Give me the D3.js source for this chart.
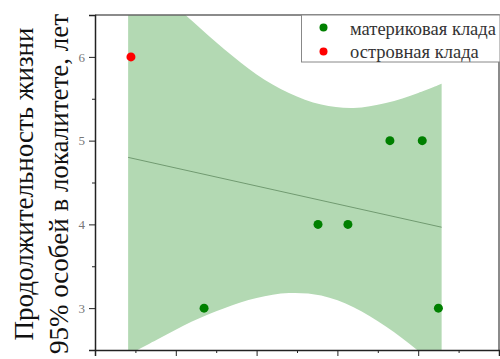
<!DOCTYPE html>
<html>
<head>
<meta charset="utf-8">
<script src="https://cdn.jsdelivr.net/npm/d3@7"></script>
<style>
  body { margin: 0; background: #fff; }
  text { font-family: "Liberation Serif", "Times New Roman", serif; }
</style>
</head>
<body>
<svg class="chart"></svg>
<script>
const width = 500;
const height = 359;
const margin = { top: 15, right: 1, bottom: 9, left: 95 };

// data
const mainlandX = [1.35, 2.76, 3.13, 3.65, 4.05, 4.25];
const mainlandY = [3, 4, 4, 5, 5, 3];
const islandX = [0.445];
const islandY = [6];

// fitted line and 95% band
const fitX = [0.41, 4.29];
const fitY = [4.8, 3.966];
const bandX = [0.41, 0.8, 1.2, 1.6, 2.0, 2.4, 2.8, 3.2, 3.6, 4.0, 4.29];
const bandUpper = [7.17, 6.79, 6.43, 6.09, 5.79, 5.57, 5.43, 5.39, 5.45, 5.57, 5.68];
const bandLower = [2.44, 2.64, 2.84, 3.0, 3.12, 3.18, 3.15, 3.01, 2.78, 2.49, 2.25];

const yTicks = [3, 4, 5, 6];
const yMinorTicks = [2.5, 3.5, 4.5, 5.5, 6.5];
const xTicks = [0, 1, 2, 3, 4, 5];
const xMinorTicks = [0.5, 1.5, 2.5, 3.5, 4.5];

const legendLabels = ["материковая клада", "островная клада"];
const legendColors = ["#008000", "#ff0000"];
const yTitle = ["Продолжительность жизни", "95% особей в локалитете, лет"];

const svg = d3.select(".chart").attr("width", width).attr("height", height);

const xScale = d3.scaleLinear().domain([0, 5]).range([margin.left, width - margin.right]);
const yScale = d3.scaleLinear().domain([2.5, 6.5]).range([height - margin.bottom, margin.top]);

svg.append("clipPath").attr("id", "plot-clip")
  .append("rect")
  .attr("x", margin.left)
  .attr("y", margin.top)
  .attr("width", width - margin.right - margin.left)
  .attr("height", height - margin.bottom - margin.top);

const plot = svg.append("g").attr("clip-path", "url(#plot-clip)");

// confidence band
const bandData = bandX.map((x, i) => ({ x: x, hi: bandUpper[i], lo: bandLower[i] }));
plot.append("path")
  .datum(bandData)
  .attr("fill", "#b3d9b3")
  .attr("d", d3.area()
    .x((d) => xScale(d.x))
    .y0((d) => yScale(d.lo))
    .y1((d) => yScale(d.hi))
    .curve(d3.curveCatmullRom));

// fit line
plot.append("line")
  .attr("x1", xScale(fitX[0]))
  .attr("y1", yScale(fitY[0]))
  .attr("x2", xScale(fitX[1]))
  .attr("y2", yScale(fitY[1]))
  .attr("stroke", "#5f8a5f")
  .attr("stroke-width", 0.8);

// points
plot.selectAll(".mainland")
  .data(mainlandX.map((x, i) => [x, mainlandY[i]]))
  .enter()
  .append("circle")
  .attr("cx", (d) => xScale(d[0]))
  .attr("cy", (d) => yScale(d[1]))
  .attr("r", 4.5)
  .attr("fill", legendColors[0]);

plot.selectAll(".island")
  .data(islandX.map((x, i) => [x, islandY[i]]))
  .enter()
  .append("circle")
  .attr("cx", (d) => xScale(d[0]))
  .attr("cy", (d) => yScale(d[1]))
  .attr("r", 4.5)
  .attr("fill", legendColors[1]);

// frame top / right
svg.append("path")
  .attr("d", `M${margin.left},${margin.top}H${width - margin.right}V${height - margin.bottom}`)
  .attr("fill", "none")
  .attr("stroke", "#666")
  .attr("stroke-width", 1.5);

// axes (x labels fall below the visible area in the original, so none drawn)
svg.append("g")
  .attr("transform", `translate(${margin.left},0)`)
  .call(d3.axisLeft(yScale).tickValues(yTicks).tickSize(6).tickPadding(4).tickFormat(d3.format("d")));
svg.append("g")
  .attr("transform", `translate(${margin.left},0)`)
  .call(d3.axisLeft(yScale).tickValues(yMinorTicks).tickSize(3).tickFormat(""))
  .call((g) => g.select(".domain").remove());

svg.append("g")
  .attr("transform", `translate(0,${height - margin.bottom})`)
  .call(d3.axisBottom(xScale).tickValues(xTicks).tickSize(6).tickFormat(""));
svg.append("g")
  .attr("transform", `translate(0,${height - margin.bottom})`)
  .call(d3.axisBottom(xScale).tickValues(xMinorTicks).tickSize(3).tickFormat(""))
  .call((g) => g.select(".domain").remove());

svg.selectAll(".domain").attr("stroke", "#222").attr("stroke-width", 1.5);
svg.selectAll(".tick line").attr("stroke", "#222");
svg.selectAll(".tick text")
  .attr("fill", "#777")
  .style("font-size", "13px")
  .style("font-family", "'Liberation Serif', serif");

// legend
const legend = svg.append("g");
legend.append("rect")
  .attr("x", 301.5)
  .attr("y", margin.top)
  .attr("width", width - 301.5)
  .attr("height", 47)
  .attr("fill", "#fff")
  .attr("stroke", "#888")
  .attr("stroke-width", 1);

legendLabels.forEach((label, i) => {
  legend.append("circle")
    .attr("cx", 323.5)
    .attr("cy", 27.5 + i * 24)
    .attr("r", 4)
    .attr("fill", legendColors[i]);
  legend.append("text")
    .attr("x", 350)
    .attr("y", 34.5 + i * 23)
    .style("font-size", "18.5px")
    .style("font-family", "'Liberation Serif', serif")
    .attr("fill", "#333")
    .text(label);
});

// y title
yTitle.forEach((line, i) => {
  svg.append("text")
    .attr("transform", "rotate(-90)")
    .attr("x", -184)
    .attr("y", 33 + i * 35)
    .attr("text-anchor", "middle")
    .style("font-size", "27px")
    .style("font-family", "'Liberation Serif', serif")
    .attr("fill", "#111")
    .text(line);
});
</script>
</body>
</html>
